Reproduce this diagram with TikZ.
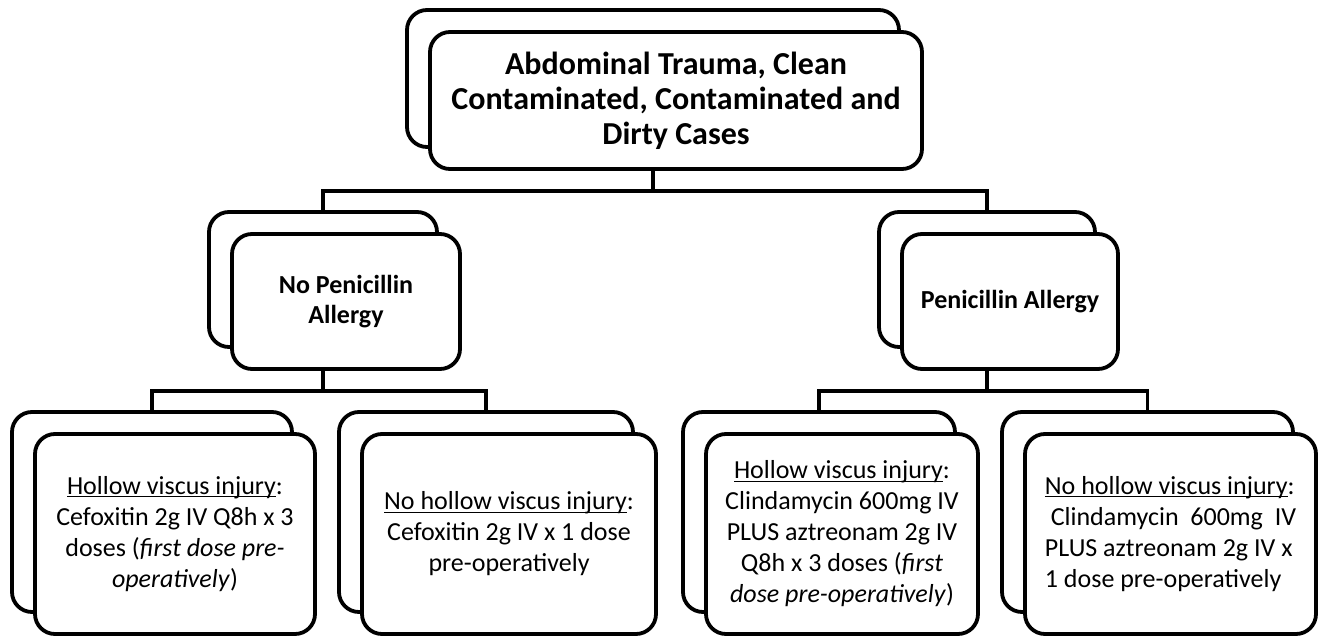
\documentclass[tikz,border=0pt]{standalone}
\usepackage{fontspec}
\setmainfont{Carlito}
\newcommand\uln[1]{\leavevmode\setbox0\hbox{#1}\rlap{\rule[-3pt]{\wd0}{1.3pt}}\box0}
\begin{document}
\begin{tikzpicture}[x=1pt,y=-1pt,
    card/.style={draw,line width=3.8pt,rounded corners=20pt,fill=white,inner sep=0pt,align=center},
    headtxt/.style={font=\bfseries\fontsize{32}{35}\selectfont},
    allergytxt/.style={font=\bfseries\fontsize{26}{30}\selectfont},
    dosetxt/.style={font=\fontsize{26}{31}\selectfont},
    link/.style={line width=3.8pt}]
    \useasboundingbox (0,0) rectangle (1320,637);

    \node[card,minimum width=492pt,minimum height=137pt] (caseback) at (653,78.5) {};
    \node[card,headtxt,minimum width=492pt,minimum height=137pt] (case) at ([shift={(23,22)}]caseback.center) {Abdominal Trauma, Clean\\Contaminated, Contaminated and\\Dirty Cases};

    \node[card,minimum width=228pt,minimum height=135pt] (nopenback) at (323,279.5) {};
    \node[card,allergytxt,minimum width=228pt,minimum height=135pt] (nopen) at ([shift={(23,22)}]nopenback.center) {No Penicillin\\Allergy};
    \node[card,minimum width=216pt,minimum height=135pt] (penback) at (987,279.5) {};
    \node[card,allergytxt,minimum width=216pt,minimum height=135pt] (pen) at ([shift={(23,22)}]penback.center) {Penicillin Allergy};

    \node[card,minimum width=280pt,minimum height=200pt] (nopenhvback) at (152,512) {};
    \node[card,dosetxt,minimum width=280pt,minimum height=200pt] (nopenhv) at ([shift={(23,22)}]nopenhvback.center) {\uln{Hollow viscus injury}:\\Cefoxitin 2g IV Q8h x 3\\doses (\textit{first dose pre-}\\\textit{operatively})};
    \node[card,minimum width=294pt,minimum height=200pt] (nopennohvback) at (486,512) {};
    \node[card,dosetxt,minimum width=294pt,minimum height=200pt] (nopennohv) at ([shift={(23,22)}]nopennohvback.center) {\uln{No hollow viscus injury}:\\Cefoxitin 2g IV x 1 dose\\pre-operatively};
    \node[card,minimum width=272pt,minimum height=200pt] (penhvback) at (819,512) {};
    \node[card,dosetxt,minimum width=272pt,minimum height=200pt] (penhv) at ([shift={(23,22)}]penhvback.center) {\uln{Hollow viscus injury}:\\Clindamycin 600mg IV\\PLUS aztreonam 2g IV\\Q8h x 3 doses (\textit{first}\\\textit{dose pre-operatively})};
    \node[card,minimum width=291pt,minimum height=200pt] (pennohvback) at (1147.5,512) {};
    \node[card,dosetxt,align=left,minimum width=291pt,minimum height=200pt] (pennohv) at ([shift={(23,22)}]pennohvback.center) {\uln{No hollow viscus injury}:\\\ Clindamycin\ \ 600mg\ \ IV\\PLUS aztreonam 2g IV x\\1 dose pre-operatively};

    \draw[link] (caseback.south |- case.south) -- ++(0,20) -| (nopenback.north);
    \draw[link] (caseback.south |- case.south) -- ++(0,20) -| (penback.north);
    \draw[link] (nopenback.south |- nopen.south) -- ++(0,20) -| (nopenhvback.north);
    \draw[link] (nopenback.south |- nopen.south) -- ++(0,20) -| (nopennohvback.north);
    \draw[link] (penback.south |- pen.south) -- ++(0,20) -| (penhvback.north);
    \draw[link] (penback.south |- pen.south) -- ++(0,20) -| (pennohvback.north);

  \end{tikzpicture}
\end{document}
